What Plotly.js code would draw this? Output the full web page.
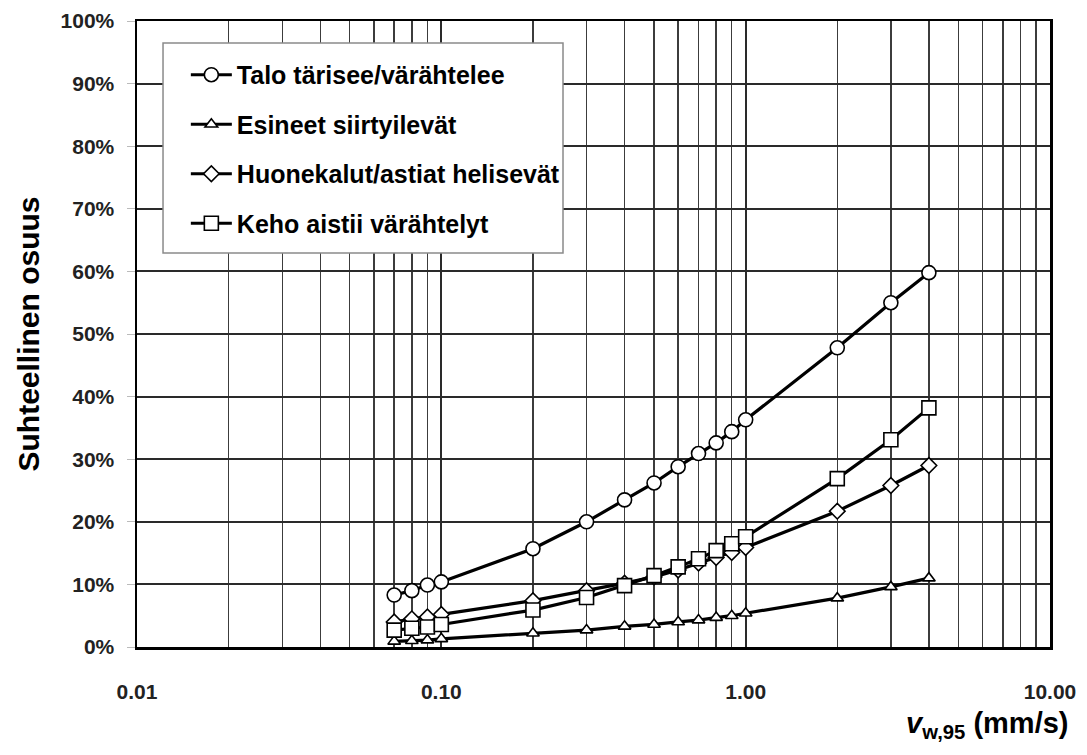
<!DOCTYPE html>
<html>
<head>
<meta charset="utf-8">
<script src="https://cdn.plot.ly/plotly-3.0.1.min.js"></script>
<style>
  html, body { margin: 0; padding: 0; background: #fff; }
  #chart { width: 1087px; height: 755px; }
</style>
</head>
<body>
<div id="chart"></div>
<script>
// Velocity values v_w,95 (mm/s)
const velocity = [0.07, 0.08, 0.09, 0.10, 0.2, 0.3, 0.4, 0.5, 0.6, 0.7, 0.8, 0.9, 1.0, 2.0, 3.0, 4.0];

// Series names
const seriesNames = [
  "Talo tärisee/värähtelee",
  "Esineet siirtyilevät",
  "Huonekalut/astiat helisevät",
  "Keho aistii värähtelyt"
];

// Relative share (%) per series
const taloTarisee   = [8.3, 9.0, 9.9, 10.4, 15.7, 20.0, 23.5, 26.2, 28.8, 30.9, 32.6, 34.4, 36.3, 47.8, 55.0, 59.8];
const esineetSiirt  = [0.9, 1.0, 1.1, 1.3, 2.2, 2.7, 3.3, 3.6, 4.0, 4.3, 4.7, 5.0, 5.4, 7.8, 9.6, 11.0];
const huonekalut    = [4.0, 4.5, 4.8, 5.2, 7.4, 9.0, 10.2, 11.2, 12.3, 13.4, 14.3, 15.1, 15.9, 21.7, 25.8, 29.0];
const kehoAistii    = [2.7, 3.0, 3.2, 3.6, 5.9, 7.9, 9.8, 11.4, 12.8, 14.1, 15.4, 16.5, 17.6, 26.9, 33.1, 38.2];

// Axis tick labels
const xTickVals = [0.01, 0.1, 1, 10];
const xTickText = ["0.01", "0.10", "1.00", "10.00"];
const xMinorVals = [];
[0.01, 0.1, 1].forEach(d => { for (let k = 2; k <= 9; k++) xMinorVals.push(+(d * k).toFixed(4)); });
const yTickVals = [0,10,20,30,40,50,60,70,80,90,100];
const yTickText = yTickVals.map(v => v + "%");

const FONT = "Liberation Sans, Arial, sans-serif";
const seriesData = [taloTarisee, esineetSiirt, huonekalut, kehoAistii];
const symbols = ["circle", "triangle-up", "diamond", "square"];
const sizes = [14, 11, 12, 14];

const traces = seriesData.map((ys, i) => ({
  type: "scatter",
  mode: "lines+markers",
  x: velocity,
  y: ys,
  name: seriesNames[i],
  legendgroup: "g" + i,
  line: { color: "#000", width: 3.2 },
  marker: {
    symbol: symbols[i],
    size: sizes[i],
    color: "#fff",
    line: { color: "#000", width: 1.6 }
  },
  cliponaxis: false
}));

const layout = {
  width: 1087,
  height: 755,
  paper_bgcolor: "#fff",
  plot_bgcolor: "#fff",
  margin: { l: 137, r: 37, t: 21, b: 108 },
  showlegend: true,
  legend: {
    x: 0.0535, y: 0.9505,
    xanchor: "left", yanchor: "top",
    bgcolor: "rgba(0,0,0,0)",
    borderwidth: 0,
    font: { family: FONT, size: 25, color: "#000", weight: "bold" },
    traceorder: "grouped",
    tracegroupgap: 14,
    itemwidth: 41
  },
  shapes: [{
    type: "rect",
    xref: "paper", yref: "paper",
    x0: 0.0285, x1: 0.4666, y0: 0.6294, y1: 0.9649,
    fillcolor: "#fff",
    line: { color: "#8a8a8a", width: 1.5 },
    layer: "above"
  }],
  xaxis: {
    type: "log",
    range: [-2, 1],
    tickvals: xTickVals,
    ticktext: xTickText,
    ticks: "",
    ticklabelstandoff: 24,
    tickfont: { family: FONT, size: 21, color: "#222", weight: "bold" },
    showgrid: true,
    gridcolor: "#2a2a2a",
    gridwidth: 2,
    minor: {
      tickvals: xMinorVals,
      showgrid: true,
      gridcolor: "#3c3c3c",
      gridwidth: 1.4,
      ticks: ""
    },
    showline: true,
    linecolor: "#000",
    linewidth: 2.5,
    mirror: true,
    zeroline: false
  },
  yaxis: {
    range: [0, 100],
    tickvals: yTickVals,
    ticktext: yTickText,
    ticks: "outside",
    ticklen: 8,
    tickcolor: "#bbb",
    tickwidth: 1,
    ticklabelstandoff: 8,
    tickfont: { family: FONT, size: 21, color: "#222", weight: "bold" },
    showgrid: true,
    gridcolor: "#2a2a2a",
    gridwidth: 2,
    showline: true,
    linecolor: "#000",
    linewidth: 2.5,
    mirror: true,
    zeroline: false,
    title: {
      text: "Suhteellinen osuus",
      font: { family: FONT, size: 30, color: "#000", weight: "bold" },
      standoff: 12
    }
  },
  annotations: [{
    xref: "paper", yref: "paper",
    x: 1, y: 0,
    xanchor: "right", yanchor: "middle",
    xshift: 21, yshift: -78,
    showarrow: false,
    text: "<i>v</i><sub>w,95</sub> (mm/s)",
    font: { family: FONT, size: 29, color: "#000", weight: "bold" }
  }]
};

Plotly.newPlot("chart", traces, layout, { displayModeBar: false, staticPlot: true });
</script>
</body>
</html>
